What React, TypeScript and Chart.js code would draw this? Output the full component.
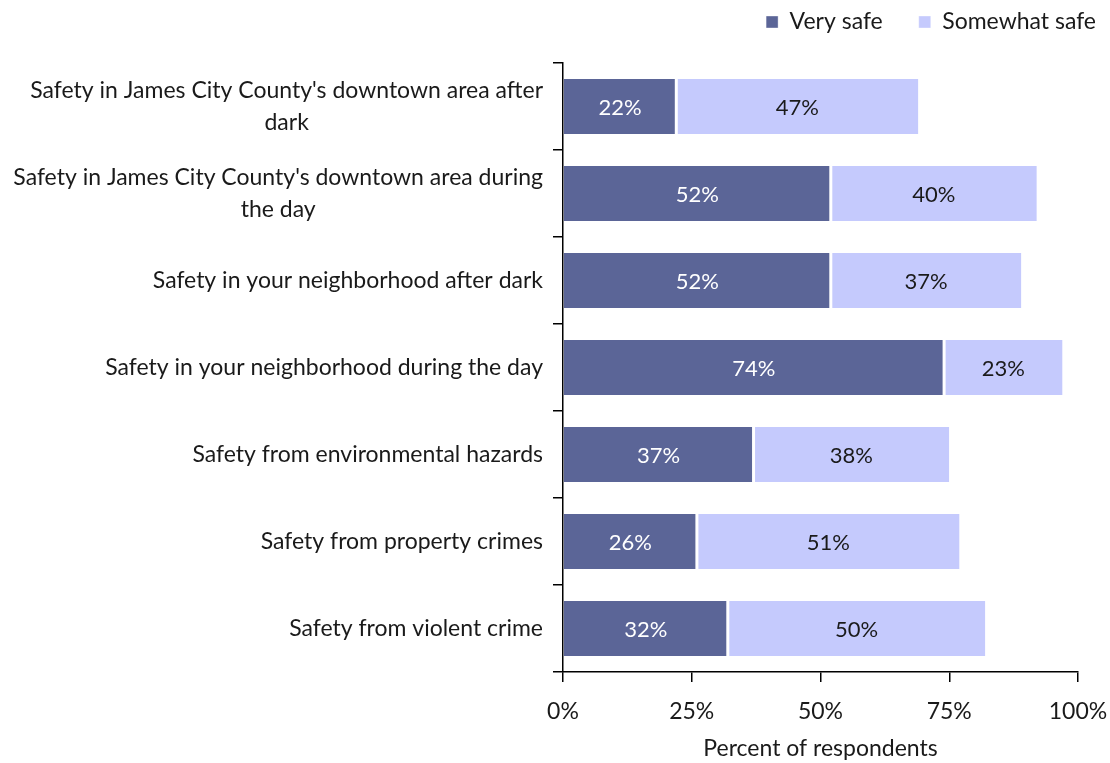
import { useEffect, useRef } from "react";
import { Chart, registerables } from "chart.js";

Chart.register(...registerables);

const categories: string[][] = [
  ["Safety in James City County's downtown area after", "dark"],
  ["Safety in James City County's downtown area during", "the day"],
  ["Safety in your neighborhood after dark"],
  ["Safety in your neighborhood during the day"],
  ["Safety from environmental hazards"],
  ["Safety from property crimes"],
  ["Safety from violent crime"],
];
const seriesNames = ["Very safe", "Somewhat safe"];
const verySafe = [22, 52, 52, 74, 37, 26, 32];
const somewhatSafe = [47, 40, 37, 23, 38, 51, 50];
const xTickValues = [0, 25, 50, 75, 100];
const xTitle = "Percent of respondents";

const FONT = "Lato, 'Open Sans', sans-serif";
const FS = 23;
const TEXT = "#1a1a1a";
const DARK = "#5b6597";
const LIGHT = "#c5cafd";

const LEG_PAD = 36;

const legendFix = {
  id: "legendFix",
  beforeLayout(chart: any) {
    const lg = chart.legend;
    if (lg && !lg.__patched) {
      const orig = lg.fit.bind(lg);
      lg.fit = function () {
        orig();
        this.height = 63;
      };
      lg.__patched = true;
    }
  },
  afterLayout(chart: any) {
    const lg = chart.legend;
    if (!lg) return;
    lg.right = 1096 + LEG_PAD;
    lg.top = 22 - FS / 2 - LEG_PAD;
  },
};

const barLabels = {
  id: "barLabels",
  afterDatasetsDraw(chart: any) {
    const ctx = chart.ctx;
    ctx.save();
    ctx.font = `22px ${FONT}`;
    ctx.textAlign = "center";
    ctx.textBaseline = "middle";
    chart.data.datasets.forEach((ds: any, di: number) => {
      const meta = chart.getDatasetMeta(di);
      meta.data.forEach((el: any, i: number) => {
        const v = ds.data[i];
        const cx = (el.x + el.base) / 2;
        ctx.fillStyle = di === 0 ? "#ffffff" : TEXT;
        ctx.fillText(`${v}%`, cx, el.y + 1);
      });
    });
    ctx.restore();
  },
};

const yLabels = {
  id: "yLabels",
  afterDraw(chart: any) {
    const ctx = chart.ctx;
    const ys = chart.scales.y;
    const right = ys.right - 20;
    const lh = 32;
    ctx.save();
    ctx.font = `${FS}px ${FONT}`;
    ctx.fillStyle = TEXT;
    ctx.textAlign = "center";
    ctx.textBaseline = "middle";
    categories.forEach((lines, i) => {
      const y = ys.getPixelForValue(i);
      const w = Math.max(...lines.map((l) => ctx.measureText(l).width));
      const cx = right - w / 2;
      lines.forEach((l, j) => {
        ctx.fillText(l, cx, y + (j - (lines.length - 1) / 2) * lh);
      });
    });
    ctx.restore();
  },
};

export default function App() {
  const ref = useRef<HTMLCanvasElement | null>(null);
  useEffect(() => {
    document.body.style.margin = "0";
    if (!ref.current) return;
    const chart = new Chart(ref.current, {
      type: "bar",
      data: {
        labels: categories.map((c) => c.join(" ")),
        datasets: [
          {
            label: seriesNames[0],
            data: verySafe,
            backgroundColor: DARK,
            borderColor: "#ffffff",
            borderWidth: { top: 0, bottom: 0, left: 0, right: 1.5 },
            borderSkipped: false,
            barPercentage: 0.63,
            categoryPercentage: 1,
          },
          {
            label: seriesNames[1],
            data: somewhatSafe,
            backgroundColor: LIGHT,
            borderColor: "#ffffff",
            borderWidth: { top: 0, bottom: 0, left: 1.5, right: 0 },
            borderSkipped: false,
            barPercentage: 0.63,
            categoryPercentage: 1,
          },
        ],
      },
      options: {
        indexAxis: "y",
        responsive: false,
        animation: false,
        layout: { padding: 0 },
        plugins: {
          legend: {
            position: "top",
            align: "end",
            labels: {
              boxWidth: 12,
              boxHeight: 12,
              padding: LEG_PAD,
              color: TEXT,
              font: { family: FONT, size: FS },
            },
          },
          tooltip: { enabled: false },
        },
        scales: {
          x: {
            stacked: true,
            min: 0,
            max: 100,
            afterBuildTicks: (s: any) => {
              s.ticks = xTickValues.map((v) => ({ value: v }));
            },
            afterFit: (s: any) => {
              s.height = 91;
              s.paddingRight = 32;
              s.paddingLeft = 0;
            },
            ticks: {
              callback: (v: any) => `${v}%`,
              color: TEXT,
              font: { family: FONT, size: FS },
              padding: 16,
              maxRotation: 0,
            },
            grid: {
              drawOnChartArea: false,
              drawTicks: true,
              tickLength: 10,
              color: "#000",
              lineWidth: 1.5,
            },
            border: { color: "#000", width: 1.5 },
            title: {
              display: true,
              text: xTitle,
              color: TEXT,
              font: { family: FONT, size: FS },
              padding: { top: 8, bottom: 1 },
            },
          },
          y: {
            stacked: true,
            afterFit: (s: any) => {
              s.width = 563;
            },
            ticks: { display: false },
            grid: {
              offset: true,
              drawOnChartArea: false,
              drawTicks: true,
              tickLength: 10,
              color: "#000",
              lineWidth: 1.5,
            },
            border: { color: "#000", width: 1.5 },
          },
        },
      } as any,
      plugins: [legendFix, barLabels, yLabels],
    });
    return () => chart.destroy();
  }, []);
  return (
    <div style={{ width: 1110, height: 763 }}>
      <canvas ref={ref} width={1110} height={763} style={{ display: "block" }} />
    </div>
  );
}
